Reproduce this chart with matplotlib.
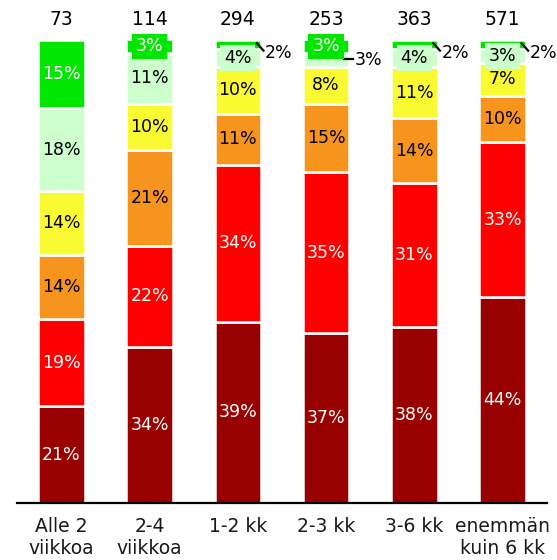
import matplotlib
matplotlib.use("Agg")
import matplotlib.pyplot as plt
import numpy as np

# --- data ---
categories = ["Alle 2\nviikkoa", "2-4\nviikkoa", "1-2 kk", "2-3 kk", "3-6 kk", "enemmän\nkuin 6 kk"]
totals = [73, 114, 294, 253, 363, 571]
dark_red = [21, 34, 39, 37, 38, 44]
red = [19, 22, 34, 35, 31, 33]
orange = [14, 21, 11, 15, 14, 10]
yellow = [14, 10, 10, 8, 11, 7]
light_green = [18, 11, 4, 3, 4, 3]
green = [15, 3, 2, 3, 2, 2]

series = [dark_red, red, orange, yellow, light_green, green]
colors = ["#990000", "#FF0000", "#F7941D", "#FAFA33", "#CCFFCC", "#00E600"]
text_colors = ["white", "white", "black", "black", "black", "white"]

# labels drawn beside the bar: (bar index, series index) -> style
outside = {(2, 5): "diag", (3, 4): "flat", (4, 5): "diag", (5, 5): "diag"}

fig = plt.figure(figsize=(5.57, 5.60), dpi=100)
ax = fig.add_axes([17.3 / 557, 1 - 502.7 / 560, 529.4 / 557, 463.2 / 560])

vals = np.array(series, dtype=float)
vals = vals / vals.sum(axis=0) * 100  # stack each bar to 100 %
x = np.arange(len(categories))
width = 0.53
fs = 12.5

bottom = np.zeros(len(categories))
for s, (row, raw) in enumerate(zip(vals, series)):
    ax.bar(x, row, width, bottom=bottom, color=colors[s],
           edgecolor="white", linewidth=1.8, zorder=2)
    for i in range(len(categories)):
        yc = bottom[i] + row[i] / 2
        label = f"{raw[i]}%"
        kind = outside.get((i, s))
        if kind == "diag":
            ax.plot([i + 0.215, i + 0.29], [yc + 0.2, yc - 1.4], color="black",
                    linewidth=1.6, zorder=3, clip_on=False)
            ax.text(i + 0.305, yc - 2.0, label, ha="left", va="center",
                    fontsize=fs, color="black", clip_on=False)
        elif kind == "flat":
            ax.plot([i + 0.2, i + 0.3], [yc + 0.3, yc + 0.3], color="black",
                    linewidth=1.6, zorder=3, clip_on=False)
            ax.text(i + 0.325, yc, label, ha="left", va="center",
                    fontsize=fs, color="black", clip_on=False)
        else:
            # thin segments get a box in their own colour behind the label
            box = None
            if row[i] < 6:
                box = dict(boxstyle="square,pad=0.22", fc=colors[s], ec="none")
            ax.text(i, yc, label, ha="center", va="center", fontsize=fs,
                    color=text_colors[s], zorder=4, clip_on=False, bbox=box)
    bottom += row

for i, t in enumerate(totals):
    ax.text(i, 104.3, str(t), ha="center", va="center", fontsize=13.5,
            color="black", clip_on=False)

ax.set_xlim(-0.5, len(categories) - 0.5)
ax.set_ylim(0, 100)
ax.set_xticks(x)
ax.set_xticklabels(categories, fontsize=13.5, color="#1a1a1a", linespacing=1.2)
ax.set_yticks([])
ax.tick_params(axis="x", length=0, pad=10)
for sp in ["top", "right", "left"]:
    ax.spines[sp].set_visible(False)
ax.spines["bottom"].set_linewidth(1.6)
ax.spines["bottom"].set_color("black")
ax.spines["bottom"].set_zorder(5)

fig.savefig("out.png", dpi=100, facecolor="white")
